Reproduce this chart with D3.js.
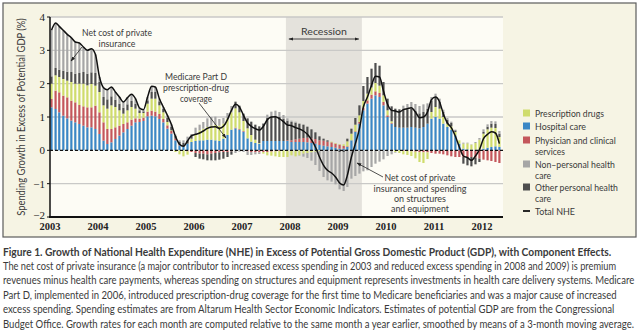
<!DOCTYPE html>
<html lang="en">
<head>
  <meta charset="UTF-8">
  <title>NHE Growth in Excess of Potential GDP</title>
  <script src="https://d3js.org/d3.v7.min.js"></script>
  <style>
    body { margin: 0; background: #fff; }
    text { font-family: "Liberation Sans Narrow", Lato, "Liberation Sans", sans-serif; fill: #3a3a3a; }
    .tick { font-family: "Liberation Serif", "DejaVu Serif", serif; fill: #222; }
  </style>
</head>
<body>
  <div id="chart"></div>
  <script>
    // monthly values, Jan 2003 .. May 2012, percentage points of potential GDP
    const yearLabels = ["2003", "2004", "2005", "2006", "2007", "2008", "2009", "2010", "2011", "2012"];
    const yTicks = [-2, -1, 0, 1, 2, 3, 4];

    const hospital = [
      1.29, 1.24, 1.14, 1.04, 0.96, 0.89, 0.84, 0.79, 0.74, 0.69, 0.69, 0.64,
      0.49, 0.29, 0.19, 0.24, 0.34, 0.44, 0.54, 0.64, 0.74, 0.84, 0.85, 0.88,
      1.02, 1.04, 1.02, 0.94, 0.84, 0.65, 0.50, 0.30, 0.15, 0.12, 0.20, 0.25,
      0.28, 0.30, 0.30, 0.32, 0.32, 0.30, 0.28, 0.35, 0.46, 0.62, 0.66, 0.62,
      0.56, 0.36, 0.26, 0.22, 0.20, 0.28, 0.28, 0.28, 0.28, 0.28, 0.28, 0.28,
      0.25, 0.25, 0.25, 0.25, 0.24, 0.22, 0.20, 0.16, 0.14, 0.12, 0.10, 0.08,
      0.05, 0.05, 0.10, 0.30, 0.55, 0.80, 1.20, 1.40, 1.55, 1.65, 1.60, 1.35,
      1.00, 0.80, 0.70, 0.68, 0.68, 0.68, 0.70, 0.68, 0.66, 0.70, 0.80, 0.95,
      1.00, 0.95, 0.80, 0.70, 0.62, 0.45, 0.20, 0.05, 0.03, 0.02, 0.02, 0.02,
      0.05, 0.08, 0.10, 0.12, 0.10
    ];
    const physician = [
      0.25, 0.55, 0.60, 0.60, 0.63, 0.60, 0.60, 0.57, 0.58, 0.60, 0.60, 0.70,
      0.65, 0.55, 0.45, 0.40, 0.35, 0.30, 0.25, 0.20, 0.18, 0.12, 0.10, 0.10,
      0.14, 0.15, 0.14, 0.15, 0.10, 0.10, 0.08, 0.05, 0.02, 0.00, -0.03, -0.05,
      -0.08, -0.10, -0.10, -0.12, -0.10, -0.08, -0.06, -0.05, -0.05, -0.03, 0.02, 0.02,
      0.02, -0.03, -0.05, -0.06, -0.06, -0.05, -0.05, -0.04, -0.03, -0.02, 0.00, 0.02,
      0.05, 0.08, 0.10, 0.12, 0.14, 0.14, 0.14, 0.14, 0.15, 0.14, 0.14, 0.12,
      0.12, 0.08, 0.02, 0.00, 0.02, 0.05, 0.08, 0.10, 0.12, 0.12, 0.12, 0.10,
      0.05, 0.02, 0.00, 0.00, -0.02, -0.02, -0.03, -0.04, -0.05, -0.06, -0.06, -0.08,
      -0.10, -0.10, -0.12, -0.15, -0.18, -0.20, -0.20, -0.20, -0.20, -0.20, -0.22, -0.25,
      -0.28, -0.30, -0.32, -0.35, -0.38
    ];
    const drugs = [
      0.46, 0.46, 0.46, 0.50, 0.50, 0.56, 0.56, 0.64, 0.68, 0.66, 0.70, 0.60,
      0.61, 0.51, 0.61, 0.71, 0.61, 0.46, 0.31, 0.36, 0.38, 0.29, 0.17, 0.14,
      0.24, 0.36, 0.39, 0.26, 0.20, 0.10, 0.02, -0.05, -0.12, -0.18, -0.10, 0.10,
      0.20, 0.30, 0.35, 0.38, 0.42, 0.46, 0.46, 0.45, 0.50, 0.52, 0.58, 0.50,
      0.30, 0.30, 0.20, 0.10, 0.02, -0.05, -0.10, -0.12, -0.15, -0.18, -0.20, -0.20,
      -0.15, -0.18, -0.15, -0.10, -0.08, -0.06, -0.04, -0.02, 0.00, 0.00, 0.02, 0.02,
      0.02, 0.05, 0.15, 0.20, 0.20, 0.20, 0.20, 0.20, 0.22, 0.25, 0.22, 0.20,
      0.15, 0.05, -0.05, -0.08, -0.10, -0.12, -0.14, -0.20, -0.30, -0.32, -0.20, 0.20,
      0.30, 0.30, 0.20, 0.10, 0.10, 0.10, 0.10, 0.15, 0.18, 0.15, 0.20, 0.30,
      0.45, 0.55, 0.58, 0.55, 0.30
    ];
    const otherPersonal = [
      0.22, 0.22, 0.22, 0.25, 0.27, 0.30, 0.30, 0.32, 0.35, 0.35, 0.35, 0.38,
      0.30, 0.25, 0.28, 0.27, 0.22, 0.20, 0.18, 0.18, 0.18, 0.15, 0.08, 0.05,
      0.10, 0.20, 0.20, 0.12, 0.10, 0.12, 0.10, 0.08, 0.08, 0.10, 0.10, 0.08,
      -0.12, -0.15, -0.17, -0.18, -0.20, -0.22, -0.22, -0.20, -0.15, -0.10, 0.20, 0.20,
      0.22, 0.30, 0.40, 0.45, 0.50, 0.52, 0.69, 0.74, 0.74, 0.72, 0.67, 0.59,
      0.55, 0.50, 0.45, 0.40, 0.33, 0.27, 0.20, 0.12, 0.06, 0.04, 0.00, -0.02,
      -0.05, -0.05, 0.08, 0.15, 0.20, 0.30, 0.45, 0.50, 0.56, 0.60, 0.60, 0.40,
      0.35, 0.45, 0.55, 0.55, 0.55, 0.55, 0.55, 0.50, 0.45, 0.45, 0.45, 0.35,
      0.30, 0.20, 0.15, 0.12, 0.10, 0.05, 0.00, -0.20, -0.25, -0.28, -0.20, -0.10,
      0.05, 0.08, 0.12, 0.12, 0.10
    ];
    const nonPersonal = [
      1.38, 1.35, 1.30, 1.21, 1.12, 1.03, 0.95, 0.90, 0.75, 0.70, 0.71, 0.56,
      0.15, 0.28, 0.29, 0.28, 0.23, 0.20, 0.17, 0.20, 0.20, 0.15, 0.07, 0.05,
      0.10, 0.17, 0.15, 0.08, 0.06, 0.08, 0.08, 0.04, 0.05, 0.08, 0.11, 0.06,
      0.20, 0.17, 0.20, 0.26, 0.26, 0.25, 0.20, 0.17, 0.16, 0.19, -0.08, -0.04,
      -0.05, -0.11, -0.09, -0.06, -0.05, 0.02, 0.10, 0.14, 0.17, 0.15, 0.11, 0.07,
      0.04, 0.03, -0.01, -0.09, -0.15, -0.25, -0.40, -0.60, -0.80, -0.90, -0.94, -1.00,
      -1.12, -1.17, -1.10, -0.85, -0.77, -0.70, -0.63, -0.60, -0.50, -0.40, -0.34, -0.27,
      -0.17, -0.12, -0.02, 0.00, 0.11, 0.16, 0.20, 0.21, 0.22, 0.23, 0.16, 0.10,
      0.10, 0.10, 0.07, 0.05, 0.04, 0.02, 0.00, 0.03, 0.02, 0.01, 0.03, 0.05,
      0.08, 0.07, 0.08, 0.08, 0.08
    ];
    const totalNhe = [
      3.60, 3.82, 3.72, 3.60, 3.48, 3.38, 3.25, 3.22, 3.10, 3.00, 3.05, 2.88,
      2.20, 1.88, 1.82, 1.90, 1.75, 1.60, 1.45, 1.58, 1.68, 1.55, 1.27, 1.22,
      1.60, 1.92, 1.90, 1.55, 1.30, 1.05, 0.78, 0.42, 0.18, 0.12, 0.28, 0.44,
      0.48, 0.52, 0.58, 0.66, 0.70, 0.71, 0.66, 0.72, 0.92, 1.20, 1.38, 1.30,
      1.05, 0.82, 0.72, 0.65, 0.61, 0.72, 0.92, 1.00, 1.01, 0.95, 0.86, 0.76,
      0.74, 0.68, 0.64, 0.58, 0.48, 0.32, 0.10, -0.20, -0.45, -0.60, -0.68, -0.80,
      -0.98, -1.04, -0.75, -0.20, 0.20, 0.65, 1.30, 1.60, 1.95, 2.22, 2.20, 1.78,
      1.38, 1.20, 1.18, 1.15, 1.22, 1.25, 1.28, 1.15, 0.98, 1.00, 1.15, 1.52,
      1.60, 1.45, 1.10, 0.82, 0.68, 0.42, 0.10, -0.17, -0.22, -0.30, -0.17, 0.02,
      0.35, 0.48, 0.56, 0.52, 0.20
    ];

    const components = [
      { key: "hospital", label: ["Hospital care"], color: "#3b87c5", values: hospital },
      { key: "physician", label: ["Physician and clinical", "services"], color: "#c4575c", values: physician },
      { key: "drugs", label: ["Prescription drugs"], color: "#cfdc6c", values: drugs },
      { key: "otherPersonal", label: ["Other personal health", "care"], color: "#4e4e4e", values: otherPersonal },
      { key: "nonPersonal", label: ["Non\u2013personal health", "care"], color: "#a6a6a6", values: nonPersonal }
    ];

    const width = 640, height = 331;
    const plot = { left: 50, right: 503, top: 17, bottom: 217 };

    const svg = d3.select("#chart").append("svg")
      .attr("width", width)
      .attr("height", height);

    // narrow a text run to a given width with a horizontal scale (condensed look)
    function fit(sel, w) {
      sel.each(function () {
        const n = this.getComputedTextLength();
        const k = n > 0 ? w / n : 1;
        const tx = +this.getAttribute("x") || 0;
        const ty = +this.getAttribute("y") || 0;
        const base = this.getAttribute("transform") || "";
        this.setAttribute("x", 0);
        this.setAttribute("y", 0);
        this.setAttribute("transform", `${base} translate(${tx},${ty}) scale(${k},1)`);
      });
    }

    const start = new Date(2003, 0, 1);
    const months = hospital.map((_, i) => d3.timeMonth.offset(start, i));
    const rows = months.map((date, i) => {
      const r = { date, total: totalNhe[i] };
      components.forEach(c => { r[c.key] = c.values[i]; });
      return r;
    });

    const x = d3.scaleTime()
      .domain([new Date(2003, 0, 1), new Date(2012, 0, 1)])
      .range([50, 482]);
    const y = d3.scaleLinear().domain([-2, 4]).range([plot.bottom, plot.top]);

    // frame
    svg.append("rect")
      .attr("x", 3).attr("y", 3).attr("width", 633).attr("height", 234)
      .attr("fill", "#f6f4e4").attr("stroke", "#5c5c5c").attr("stroke-width", 1.2);
    svg.append("rect")
      .attr("x", plot.left).attr("y", plot.top)
      .attr("width", plot.right - plot.left).attr("height", plot.bottom - plot.top)
      .attr("fill", "#fdfcf5");

    // recession band (Dec 2007 - Jun 2009)
    const recStart = new Date(2007, 11, 1), recEnd = new Date(2009, 6, 1);
    svg.append("rect")
      .attr("x", x(recStart)).attr("y", plot.top)
      .attr("width", x(recEnd) - x(recStart)).attr("height", plot.bottom - plot.top)
      .attr("fill", "#e4e2dc");

    // gridlines
    svg.append("g").selectAll("line")
      .data(yTicks.filter(t => t !== 0 && t !== -2))
      .join("line")
      .attr("x1", plot.left).attr("x2", plot.right)
      .attr("y1", d => y(d)).attr("y2", d => y(d))
      .attr("stroke", "#c9c9c7").attr("stroke-width", 1.3);

    // stacked bars, positives up from zero and negatives down
    const series = d3.stack()
      .keys(components.map(c => c.key))
      .offset(d3.stackOffsetDiverging)(rows);

    const barW = 2.2;
    svg.append("g").selectAll("g")
      .data(series)
      .join("g")
      .attr("fill", s => components.find(c => c.key === s.key).color)
      .selectAll("rect")
      .data(s => s)
      .join("rect")
      .attr("x", d => x(d.data.date) + 0.4)
      .attr("width", barW)
      .attr("y", d => y(Math.max(d[0], d[1])))
      .attr("height", d => Math.abs(y(d[0]) - y(d[1])));

    // zero line
    svg.append("line")
      .attr("x1", plot.left).attr("x2", plot.right)
      .attr("y1", y(0)).attr("y2", y(0))
      .attr("stroke", "#111").attr("stroke-width", 1.3)
      .attr("stroke-dasharray", "3,2");

    // total NHE line
    const line = d3.line()
      .x(d => x(d.date) + 1.5)
      .y(d => y(d.total))
      .curve(d3.curveMonotoneX);
    svg.append("path")
      .datum(rows)
      .attr("d", line)
      .attr("fill", "none")
      .attr("stroke", "#111")
      .attr("stroke-width", 1.5);

    // axes
    svg.append("line")
      .attr("x1", plot.left).attr("x2", plot.left)
      .attr("y1", plot.top).attr("y2", plot.bottom)
      .attr("stroke", "#111").attr("stroke-width", 1.5);
    svg.append("line")
      .attr("x1", plot.left - 1).attr("x2", plot.right)
      .attr("y1", plot.bottom).attr("y2", plot.bottom)
      .attr("stroke", "#111").attr("stroke-width", 1.8);

    const yAxis = svg.append("g");
    yAxis.selectAll("line")
      .data(yTicks)
      .join("line")
      .attr("x1", plot.left - 3).attr("x2", plot.left)
      .attr("y1", d => y(d)).attr("y2", d => y(d))
      .attr("stroke", "#111");
    yAxis.selectAll("text")
      .data(yTicks)
      .join("text")
      .attr("class", "tick")
      .attr("x", plot.left - 5)
      .attr("y", d => d === -2 ? y(d) - 2 : y(d))
      .attr("dy", "0.35em")
      .attr("text-anchor", "end")
      .attr("font-size", 11)
      .text(d => d < 0 ? "\u2212" + Math.abs(d) : d);

    svg.append("g").selectAll("text")
      .data(yearLabels)
      .join("text")
      .attr("class", "tick")
      .attr("x", d => x(new Date(+d, 0, 1)))
      .attr("y", 229.5)
      .attr("text-anchor", "middle")
      .attr("font-size", 10.5)
      .attr("font-weight", "bold")
      .text(d => d);

    svg.append("text")
      .attr("transform", "translate(24.5,117) rotate(-90)")
      .attr("text-anchor", "middle")
      .attr("font-size", 10.5)
      .attr("fill", "#222")
      .text("Spending Growth in Excess of Potential GDP (%)")
      .call(fit, 198);

    // arrow markers
    const defs = svg.append("defs");
    defs.append("marker")
      .attr("id", "head")
      .attr("viewBox", "0 0 10 10")
      .attr("refX", 9).attr("refY", 5)
      .attr("markerWidth", 6).attr("markerHeight", 6)
      .attr("orient", "auto-start-reverse")
      .append("path")
      .attr("d", "M0,1.5L10,5L0,8.5Z")
      .attr("fill", "#222");

    function arrow(x1, y1, x2, y2, both) {
      const l = svg.append("line")
        .attr("x1", x1).attr("y1", y1).attr("x2", x2).attr("y2", y2)
        .attr("stroke", "#222").attr("stroke-width", 0.8)
        .attr("marker-end", "url(#head)");
      if (both) l.attr("marker-start", "url(#head)");
    }

    function note(cx, lines, size) {
      const g = svg.append("g");
      lines.forEach(([txt, cy, w]) => {
        g.append("text")
          .attr("x", cx).attr("y", cy)
          .attr("dy", "0.35em")
          .attr("text-anchor", "middle")
          .attr("font-size", size || 10)
          .text(txt)
          .call(fit, w);
      });
    }

    // recession label
    note(324, [["Recession", 31, 46]]);
    arrow(x(recStart) + 3, 39, x(recEnd) - 3, 39, true);

    note(117, [["Net cost of private", 32, 70], ["insurance", 43, 37]]);
    arrow(82, 47, 71, 61);

    note(196, [["Medicare Part D", 76, 62], ["prescription-drug", 87, 66], ["coverage", 98.5, 32]]);
    arrow(199, 103, 226, 138);

    note(420, [["Net cost of private", 178, 71], ["insurance and spending", 188.5, 93],
               ["on structures", 198.5, 52], ["and equipment", 208.5, 58]], 9.5);
    arrow(383, 177, 357, 163);

    // legend
    const legendItems = [
      { c: components[2], y: 113, w: [69] },
      { c: components[0], y: 126, w: [51] },
      { c: components[1], y: 140, w: [81, 30] },
      { c: components[4], y: 164, w: [80, 16] },
      { c: components[3], y: 187, w: [83, 16] }
    ];
    const legend = svg.append("g");
    legendItems.forEach(item => {
      legend.append("rect")
        .attr("x", 523).attr("y", item.y - 3.5)
        .attr("width", 7).attr("height", 7)
        .attr("fill", item.c.color);
      item.c.label.forEach((t, k) => {
        legend.append("text")
          .attr("x", 535).attr("y", item.y + k * 11.5)
          .attr("dy", "0.35em")
          .attr("font-size", 10)
          .text(t)
          .call(fit, item.w[k]);
      });
    });
    legend.append("line")
      .attr("x1", 523).attr("x2", 530).attr("y1", 211).attr("y2", 211)
      .attr("stroke", "#111").attr("stroke-width", 1.8);
    legend.append("text")
      .attr("x", 535).attr("y", 211).attr("dy", "0.35em")
      .attr("font-size", 10)
      .text("Total NHE")
      .call(fit, 40);

    // caption
    const captionTitle = "Figure 1. Growth of National Health Expenditure (NHE) in Excess of Potential Gross Domestic Product (GDP), with Component Effects.";
    const captionLines = [
      "The net cost of private insurance (a major contributor to increased excess spending in 2003 and reduced excess spending in 2008 and 2009) is premium",
      "revenues minus health care payments, whereas spending on structures and equipment represents investments in health care delivery systems. Medicare",
      "Part D, implemented in 2006, introduced prescription-drug coverage for the first time to Medicare beneficiaries and was a major cause of increased",
      "excess spending. Spending estimates are from Altarum Health Sector Economic Indicators. Estimates of potential GDP are from the Congressional",
      "Budget Office. Growth rates for each month are computed relative to the same month a year earlier, smoothed by means of a 3-month moving average."
    ];
    const captionWidths = [614, 632, 614, 612, 632];

    svg.append("text")
      .attr("x", 3).attr("y", 256)
      .attr("font-size", 11)
      .attr("font-weight", "bold")
      .attr("fill", "#1e1e1e")
      .text(captionTitle)
      .call(fit, 609);

    svg.append("g").selectAll("text")
      .data(captionLines)
      .join("text")
      .attr("x", 3)
      .attr("y", (d, i) => 270 + i * 14.4)
      .attr("font-size", 11)
      .attr("fill", "#333")
      .text(d => d)
      .each(function (d, i) { d3.select(this).call(fit, captionWidths[i]); });
  </script>
</body>
</html>
